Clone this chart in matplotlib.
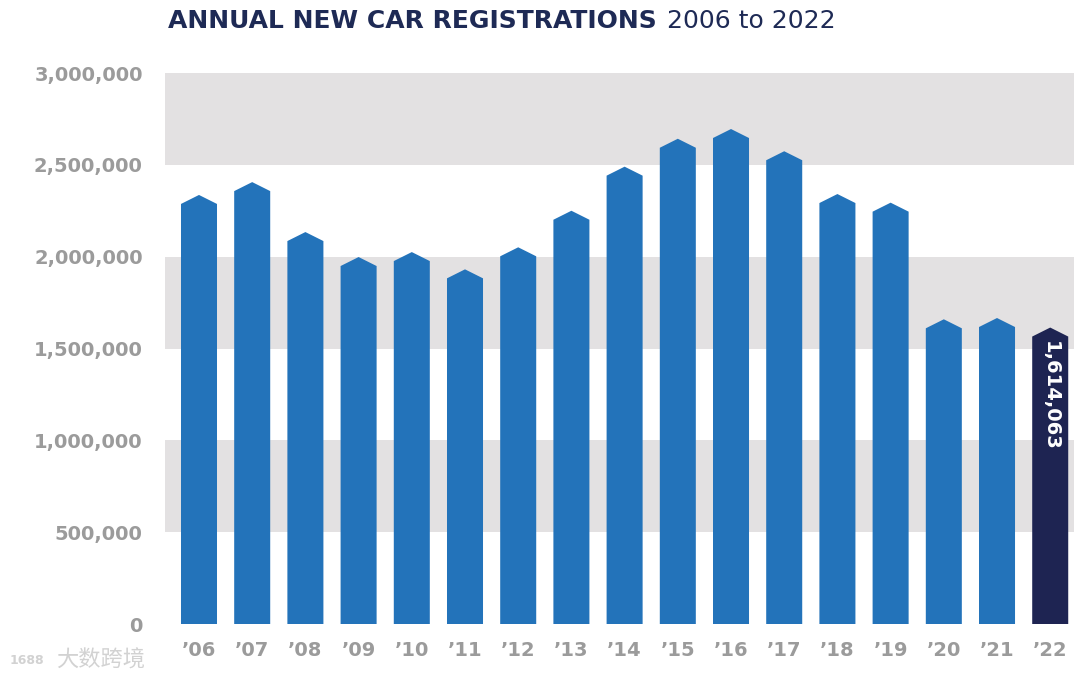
import matplotlib
matplotlib.use("Agg")
import matplotlib.pyplot as plt
from matplotlib.patches import Polygon
import numpy as np

years = ["’06", "’07", "’08", "’09", "’10", "’11", "’12", "’13", "’14",
         "’15", "’16", "’17", "’18", "’19", "’20", "’21", "’22"]
registrations = [2336000, 2406000, 2134000, 1998000, 2025000, 1931000, 2051000,
                 2250000, 2490000, 2642000, 2695000, 2574000, 2341000, 2294000,
                 1659000, 1666000, 1614063]
highlight_label = "1,614,063"
y_ticks = [0, 500000, 1000000, 1500000, 2000000, 2500000, 3000000]
y_tick_labels = ["0", "500,000", "1,000,000", "1,500,000", "2,000,000",
                 "2,500,000", "3,000,000"]

BLUE = "#2373BA"
NAVY = "#1E2452"
BAND = "#E3E1E2"
GREY = "#9B9B9B"
TITLE = "#1E2A55"

W, H = 1080, 677
fig = plt.figure(figsize=(W / 100, H / 100), dpi=100)
ax = fig.add_axes([165 / W, 1 - 624 / H, (1074 - 165) / W, (624 - 73) / H])

ymax = 3000000
ax.set_ylim(0, ymax)
n = len(years)
ax.set_xlim(-0.639, n - 1 + 0.447)

# alternating bands
for i in range(len(y_ticks) - 1):
    if i % 2 == 1:
        ax.axhspan(y_ticks[i], y_ticks[i + 1], color=BAND, zorder=0, lw=0)

bw = 0.677
tip = 49000
for i, v in enumerate(registrations):
    c = NAVY if i == n - 1 else BLUE
    pts = [(i - bw / 2, 0), (i - bw / 2, v - tip), (i, v),
           (i + bw / 2, v - tip), (i + bw / 2, 0)]
    ax.add_patch(Polygon(pts, closed=True, facecolor=c, edgecolor="none", zorder=2))

ax.text(n - 1, registrations[-1] - 75000, highlight_label, rotation=270,
        ha="center", va="top", color="white", fontsize=14, fontweight="bold",
        zorder=3)

for s in ax.spines.values():
    s.set_visible(False)
ax.set_yticks(y_ticks)
ax.set_yticklabels(y_tick_labels)
ax.set_xticks(range(n))
ax.set_xticklabels(years)
ax.tick_params(axis="both", length=0, labelsize=14, labelcolor=GREY)
ax.tick_params(axis="y", pad=16)
ax.tick_params(axis="x", pad=12)
for lbl in ax.get_xticklabels() + ax.get_yticklabels():
    lbl.set_fontweight("bold")

# title
t1 = fig.text(168 / W, 1 - 28 / H, "ANNUAL NEW CAR REGISTRATIONS", fontsize=18,
              fontweight="bold", color=TITLE, ha="left", va="baseline")
fig.canvas.draw()
bb = t1.get_window_extent()
fig.text((bb.x1 + 10) / W, 1 - 28 / H, "2006 to 2022", fontsize=18,
         color=TITLE, ha="left", va="baseline")

# watermark
fig.text(56 / W, 1 - 667 / H, "大数跨境", fontsize=16, color="#D2D2D2",
         family=["Noto Sans CJK SC", "DejaVu Sans"], ha="left", va="baseline")
fig.text(10 / W, 1 - 664 / H, "1688", fontsize=9, color="#D2D2D2",
         ha="left", va="baseline", fontweight="bold")

fig.savefig("out.png", dpi=100)
